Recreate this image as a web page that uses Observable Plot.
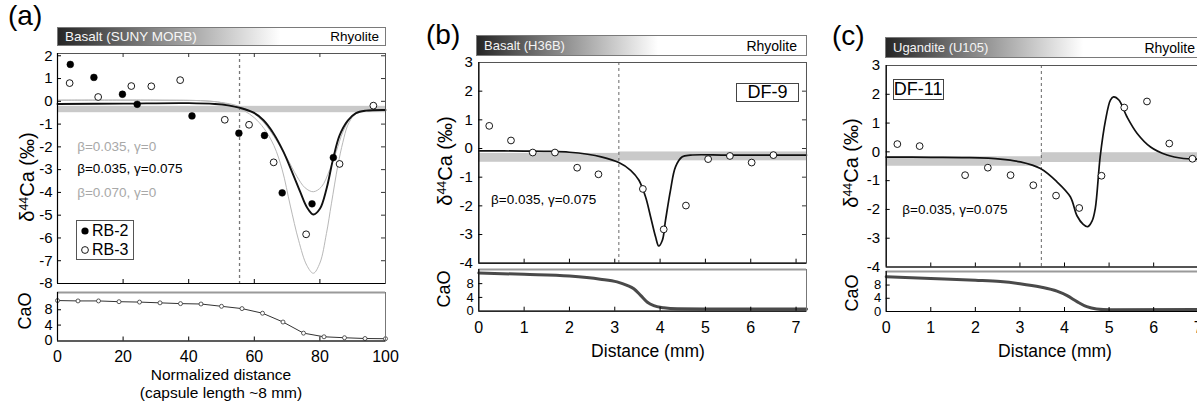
<!DOCTYPE html>
<html><head><meta charset="utf-8">
<script src="https://cdn.jsdelivr.net/npm/d3@7"></script>
<script src="https://cdn.jsdelivr.net/npm/@observablehq/plot@0.6"></script>
<style>
html,body{margin:0;padding:0;background:#fff;}
#root{position:relative;width:1197px;height:401px;overflow:hidden;font-family:"Liberation Sans",Arial,Helvetica,sans-serif;color:#000;}
#root svg{overflow:visible;}
.bar{position:absolute;box-sizing:border-box;border:1px solid #7a7a7a;display:flex;justify-content:space-between;align-items:center;white-space:nowrap;}
.ylab{position:absolute;transform:translate(-50%,-50%) rotate(-90deg);white-space:nowrap;line-height:1;}
.sup{font-size:0.62em;position:relative;top:-0.5em;}
</style></head><body><div id="root"></div>
<script>
// ================= DATA =================
// ---- Panel (a): SUNY MORB basalt / rhyolite, normalized distance ----
const aRB2x = [3.9, 11.1, 19.8, 24.3, 41, 55.3, 63.1, 68.5, 77.6, 84.1];
const aRB2y = [1.62, 1.05, 0.31, -0.13, -0.64, -1.4, -1.5, -4.02, -4.5, -2.47];
const aRB3x = [3.7, 12.4, 22.5, 28.6, 37.4, 51, 58.4, 65.9, 75.8, 86, 96.3];
const aRB3y = [0.8, 0.19, 0.67, 0.66, 0.93, -0.81, -1.03, -2.68, -5.84, -2.75, -0.19];
// model: beta=0.035, gamma=0.075 (black)
const aFitX = [0, 20, 40, 48, 52, 55.7, 59.8, 62.8, 65.9, 68.9, 71.5, 74, 76, 78, 80, 82, 84, 86, 88.5, 91, 94, 100];
const aFitY = [-0.12, -0.1, -0.08, -0.12, -0.18, -0.29, -0.5, -0.83, -1.42, -2.22, -3.1, -3.98, -4.64, -4.97, -4.72, -3.85, -2.55, -1.5, -0.85, -0.52, -0.41, -0.38];
// model: beta=0.035, gamma=0 (grey)
const aG1X = [0, 30, 45, 50, 55, 60, 63, 66, 70, 73, 75.5, 78, 80.5, 83, 85, 87, 89.5, 92, 96, 100];
const aG1Y = [0.05, 0.05, 0.02, -0.05, -0.2, -0.55, -0.95, -1.55, -2.5, -3.3, -3.8, -3.97, -3.75, -3.0, -2.2, -1.35, -0.7, -0.45, -0.38, -0.37];
// model: beta=0.070, gamma=0 (grey)
const aG2X = [0, 30, 45, 50, 54, 57, 60, 63, 66, 68.5, 71, 73.5, 76, 78, 80, 82, 83.5, 85.5, 87, 88.5, 90.5, 93, 100];
const aG2Y = [0.05, 0.05, 0.02, -0.06, -0.22, -0.42, -0.72, -1.2, -1.95, -3.0, -4.6, -6.1, -7.2, -7.55, -7.1, -5.8, -4.5, -2.8, -1.8, -1.05, -0.6, -0.43, -0.38];
const aBandX1 = [0], aBandX2 = [100], aBandY1 = [-0.22], aBandY2 = [-0.5];
const aSplit = [55.5];
const aCaOx = [0, 6.25, 12.5, 18.75, 25, 31.25, 37.5, 43.75, 50, 56.25, 62.5, 68.75, 75, 81.25, 87.5, 93.75, 100];
const aCaOy = [10.4, 10.3, 10.3, 10.1, 10.0, 9.8, 9.6, 9.5, 8.9, 8.3, 7.1, 4.8, 1.9, 0.95, 0.7, 0.5, 0.45];
const aYLabels = [-8, -7, -6, -5, -4, -3, -2, -1, 0, 1, 2];
const aXLabels = [0, 20, 40, 60, 80, 100];
const aNotes = ["β=0.035, γ=0", "β=0.035, γ=0.075", "β=0.070, γ=0"];
const aNoteY = [-2.0, -2.95, -4.0];

// ---- Panel (b): H36B basalt / rhyolite, DF-9 ----
const bX = [0.23, 0.71, 1.19, 1.68, 2.17, 2.64, 3.62, 4.08, 4.57, 5.06, 5.54, 6.02, 6.5];
const bY = [0.79, 0.28, -0.14, -0.14, -0.67, -0.9, -1.41, -2.82, -1.99, -0.37, -0.26, -0.49, -0.23];
const bFitX = [0, 1, 1.5, 2, 2.4, 2.7, 3.09, 3.35, 3.53, 3.68, 3.79, 3.9, 3.97, 4.05, 4.12, 4.23, 4.34, 4.49, 4.67, 5.5, 7.23];
const bFitY = [-0.08, -0.09, -0.1, -0.13, -0.2, -0.29, -0.49, -0.76, -1.1, -1.69, -2.38, -3.08, -3.4, -3.2, -2.5, -1.45, -0.64, -0.29, -0.23, -0.23, -0.23];
const bBandX1 = [0, 3.09], bBandX2 = [3.09, 7.23], bBandY1 = [-0.17, -0.12], bBandY2 = [-0.48, -0.43];
const bSplit = [3.09];
const bCaOx = [0, 1, 2, 2.68, 3.05, 3.27, 3.42, 3.57, 3.72, 3.86, 4.08, 4.38, 5, 7.23];
const bCaOy = [11.1, 10.7, 10.2, 9.3, 8.5, 7.5, 6.5, 4.6, 2.6, 1.6, 1.0, 0.7, 0.65, 0.65];

// ---- Panel (c): U105 ugandite / rhyolite, DF-11 ----
const cX = [0.25, 0.75, 1.77, 2.28, 2.79, 3.3, 3.81, 4.33, 4.83, 5.34, 5.85, 6.35, 6.87];
const cY = [0.27, 0.2, -0.81, -0.55, -0.81, -1.16, -1.52, -1.95, -0.83, 1.54, 1.75, 0.29, -0.24];
const cFitX = [0, 1, 1.8, 2.56, 3.01, 3.46, 3.83, 4.13, 4.28, 4.42, 4.52, 4.62, 4.69, 4.8, 4.92, 5.03, 5.1, 5.22, 5.4, 5.63, 5.93, 6.3, 6.67, 6.97, 7.23];
const cFitY = [-0.18, -0.19, -0.2, -0.25, -0.35, -0.58, -1.04, -1.56, -2.22, -2.52, -2.6, -2.4, -1.97, -0.17, 1.1, 1.8, 1.91, 1.8, 1.22, 0.64, 0.17, -0.11, -0.23, -0.25, -0.27];
const cBandX1 = [0, 3.48], cBandX2 = [3.48, 7.23], cBandY1 = [-0.17, -0.03], cBandY2 = [-0.5, -0.37];
const cSplit = [3.48];
const cCaOx = [0, 1, 2, 2.56, 3.0, 3.46, 3.83, 4.06, 4.28, 4.5, 4.72, 5.02, 7.23];
const cCaOy = [10.5, 10.0, 9.45, 9.05, 8.4, 7.4, 6.15, 4.8, 3.0, 1.45, 0.75, 0.5, 0.6];

const bcYLabels = [-4, -3, -2, -1, 0, 1, 2, 3];
const bcXLabels = [0, 1, 2, 3, 4, 5, 6, 7];
const caoLabels = [0, 4, 8];
const fitNote = "β=0.035, γ=0.075";

// ================= HELPERS =================
const root = document.getElementById("root");
const FONT = "'Liberation Sans', Arial, Helvetica, sans-serif";
const fmt = d => String(d);
const zip = (xs, ys) => xs.map((x, i) => ({x, y: ys[i]}));
const bands = (x1, x2, y1, y2) => x1.map((v, i) => ({x1: v, x2: x2[i], y1: y1[i], y2: y2[i]}));

function place(svg, left, top) {
  svg.style.position = "absolute";
  svg.style.left = left + "px";
  svg.style.top = top + "px";
  svg.style.maxWidth = "none";
  root.appendChild(svg);
}
function html(css, inner, cls) {
  const e = document.createElement("div");
  if (cls) e.className = cls;
  e.style.cssText = "position:absolute;" + css;
  e.innerHTML = inner;
  root.appendChild(e);
  return e;
}
function makePlot(o) {
  return Plot.plot({
    width: o.width, height: o.height,
    marginLeft: o.mL, marginRight: o.mR, marginTop: o.mT, marginBottom: o.mB,
    x: o.noX ? {domain: o.xDomain, axis: null} : {domain: o.xDomain},
    y: {domain: o.yDomain},
    style: {fontFamily: FONT, fontSize: "15px", background: "transparent", overflow: "visible", color: "#000"},
    marks: o.marks
  });
}
function inward(xT, yT, fw, fh, sides, len = 4) {
  const m = [];
  if (sides.includes("l")) m.push(Plot.tickY(yT, {y: d => d, insetRight: fw - len, stroke: "#000"}));
  if (sides.includes("r")) m.push(Plot.tickY(yT, {y: d => d, insetLeft: fw - len, stroke: "#333"}));
  if (sides.includes("b")) m.push(Plot.tickX(xT, {x: d => d, insetTop: fh - len, stroke: "#000"}));
  if (sides.includes("t")) m.push(Plot.tickX(xT, {x: d => d, insetBottom: fh - len, stroke: "#333"}));
  return m;
}
function frameMarks(xDom, yDom) {
  return [
    Plot.frame({stroke: "#555", strokeWidth: 1}),
    Plot.ruleX([xDom[0]], {stroke: "#000", strokeWidth: 1.2}),
    Plot.ruleY([yDom[0]], {stroke: "#000", strokeWidth: 1.2})
  ];
}
function bottomFrame(xDom, yDom) {
  return [
    Plot.frame({stroke: "#777", strokeWidth: 1}),
    Plot.ruleY([yDom[1]], {stroke: "#9a9a9a", strokeWidth: 2}),
    Plot.ruleX([xDom[0]], {stroke: "#000", strokeWidth: 1.2}),
    Plot.ruleY([yDom[0]], {stroke: "#000", strokeWidth: 1.2})
  ];
}

// ================= PANEL (a) =================
{
  const xDom = [0, 100], yDom = [-8, 2.1];
  const fw = 328, fh = 230;
  const svg = makePlot({
    width: 390, height: 245, mL: 57, mR: 5, mT: 10, mB: 5, xDomain: xDom, yDomain: yDom, noX: true,
    marks: [
      Plot.rect(bands(aBandX1, aBandX2, aBandY1, aBandY2), {x1: "x1", x2: "x2", y1: "y1", y2: "y2", fill: "#c9c9c9"}),
      Plot.ruleX(aSplit, {stroke: "#777", strokeWidth: 1.3, strokeDasharray: "3,3"}),
      Plot.line(zip(aG2X, aG2Y), {x: "x", y: "y", stroke: "#b8b8b8", strokeWidth: 1, curve: "catmull-rom"}),
      Plot.line(zip(aG1X, aG1Y), {x: "x", y: "y", stroke: "#b8b8b8", strokeWidth: 1, curve: "catmull-rom"}),
      Plot.line(zip(aFitX, aFitY), {x: "x", y: "y", stroke: "#111", strokeWidth: 1.9, curve: "catmull-rom"}),
      Plot.dot(zip(aRB3x, aRB3y), {x: "x", y: "y", r: 3.4, fill: "#fff", stroke: "#000", strokeWidth: 0.9}),
      Plot.dot(zip(aRB2x, aRB2y), {x: "x", y: "y", r: 3.4, fill: "#000", stroke: "#000", strokeWidth: 0.5}),
      Plot.text([aNotes[0], aNotes[2]], {x: () => 6, y: (d, i) => [aNoteY[0], aNoteY[2]][i], text: d => d, textAnchor: "start", fill: "#a8a8a8", fontSize: 13.5}),
      Plot.text([aNotes[1]], {x: () => 6, y: () => aNoteY[1], text: d => d, textAnchor: "start", fill: "#000", fontSize: 13.5}),
      ...frameMarks(xDom, yDom),
      ...inward([20, 40, 60, 80], [-7, -6, -5, -4, -3, -2, -1, 0, 1, 2], fw, fh, "lrbt"),
      Plot.axisY({ticks: aYLabels, tickFormat: fmt, anchor: "left", tickSize: 0, tickPadding: 5, fontSize: 15, label: null})
    ]
  });
  place(svg, 0, 43);

  const yb = [-0.15, 12.5];
  const fhb = 48.5;
  const svgB = makePlot({
    width: 390, height: 90, mL: 57, mR: 5, mT: 10, mB: 31.5, xDomain: xDom, yDomain: yb,
    marks: [
      Plot.line(zip(aCaOx, aCaOy), {x: "x", y: "y", stroke: "#333", strokeWidth: 1}),
      Plot.dot(zip(aCaOx, aCaOy), {x: "x", y: "y", r: 2, fill: "#fff", stroke: "#333", strokeWidth: 0.8}),
      ...bottomFrame(xDom, yb),
      ...inward([20, 40, 60, 80], [4, 8], fw, fhb, "lb"),
      Plot.axisY({ticks: caoLabels, tickFormat: fmt, anchor: "left", tickSize: 0, tickPadding: 5, fontSize: 14.5, label: null}),
      Plot.axisX({ticks: aXLabels, tickFormat: fmt, anchor: "bottom", tickSize: 0, tickPadding: 10, fontSize: 16, label: null})
    ]
  });
  place(svgB, 0, 282);

  html("left:8px;top:2px;font-size:28px;line-height:28px;", "(a)");
  html(`left:57px;top:26.5px;width:329px;height:19px;padding:0 6px 0 7px;font-size:13.5px;background:linear-gradient(to right,#262626 0%,#ffffff 68%);`,
       `<span style="color:#f6f6f6">Basalt (SUNY MORB)</span><span>Rhyolite</span>`, "bar");
  html("left:27px;top:177px;font-size:20px;", `δ<span class="sup">44</span>Ca (‰)`, "ylab");
  html("left:25px;top:311px;font-size:18px;", "CaO", "ylab");
  html("left:121px;top:366px;width:200px;text-align:center;font-size:15.5px;line-height:17.5px;white-space:nowrap;", "Normalized distance<br>(capsule length ~8 mm)");
  html("left:76px;top:220px;width:58px;height:40px;box-sizing:border-box;border:1px solid #555;background:#fff;font-size:16px;line-height:19px;",
       `<div style="display:flex;align-items:center;height:19px;padding-left:3px;"><svg width="10" height="10" style="overflow:visible"><circle cx="5" cy="5" r="3.6" fill="#000"/></svg><span style="margin-left:2px">RB-2</span></div>` +
       `<div style="display:flex;align-items:center;height:19px;padding-left:3px;"><svg width="10" height="10" style="overflow:visible"><circle cx="5" cy="5" r="3.4" fill="#fff" stroke="#000" stroke-width="0.9"/></svg><span style="margin-left:2px">RB-3</span></div>`);
}

// ================= PANELS (b) and (c) =================
function bcPanel(p) {
  const xDom = [0, 7.23], yDom = [-4, 3];
  const fw = p.frameW, fh = p.frameH;
  const svg = makePlot({
    width: p.width, height: p.topH, mL: p.mL, mR: p.mR, mT: 10, mB: 5, xDomain: xDom, yDomain: yDom, noX: true,
    marks: [
      Plot.rect(bands(p.bx1, p.bx2, p.by1, p.by2), {x1: "x1", x2: "x2", y1: "y1", y2: "y2", fill: "#c9c9c9"}),
      Plot.ruleX(p.split, {stroke: "#666", strokeWidth: 1, strokeDasharray: "3,3"}),
      Plot.line(zip(p.fitX, p.fitY), {x: "x", y: "y", stroke: "#111", strokeWidth: 1.7, curve: "catmull-rom"}),
      Plot.dot(zip(p.px, p.py), {x: "x", y: "y", r: 3.4, fill: "#fff", stroke: "#000", strokeWidth: 0.9}),
      Plot.text([fitNote], {x: () => p.noteX, y: () => p.noteY, text: d => d, textAnchor: "start", fill: "#000", fontSize: 13.5}),
      ...frameMarks(xDom, yDom),
      ...inward([1, 2, 3, 4, 5, 6, 7], [-3, -2, -1, 0, 1, 2], fw, fh, "lrb"),
      Plot.axisY({ticks: bcYLabels, tickFormat: fmt, anchor: "left", tickSize: 0, tickPadding: 6, fontSize: 15, label: null})
    ]
  });
  place(svg, p.left, p.top);

  const yb = [0, 12.1];
  const svgB = makePlot({
    width: p.width, height: 90, mL: p.mL, mR: p.mR, mT: 10, mB: 90 - 10 - p.botH, xDomain: xDom, yDomain: yb,
    marks: [
      Plot.line(zip(p.caoX, p.caoY), {x: "x", y: "y", stroke: "#4a4a4a", strokeWidth: 3, curve: "monotone-x"}),
      ...bottomFrame(xDom, yb),
      ...inward([1, 2, 3, 4, 5, 6, 7], [4, 8], fw, p.botH, "lb"),
      Plot.axisY({ticks: caoLabels, tickFormat: fmt, anchor: "left", tickSize: 0, tickPadding: 5, fontSize: 13, label: null}),
      Plot.axisX({ticks: bcXLabels, tickFormat: fmt, anchor: "bottom", tickSize: 0, tickPadding: 10, fontSize: 16, label: null})
    ]
  });
  place(svgB, p.left, p.botTop);
}

bcPanel({left: 420, top: 52.3, width: 390, mL: 58.3, mR: 4, topH: 215.7, frameW: 327.7, frameH: 200.7,
  botTop: 259.3, botH: 41.7,
  px: bX, py: bY, fitX: bFitX, fitY: bFitY, bx1: bBandX1, bx2: bBandX2, by1: bBandY1, by2: bBandY2,
  split: bSplit, caoX: bCaOx, caoY: bCaOy, noteX: 0.27, noteY: -1.8});
bcPanel({left: 827, top: 55, width: 385, mL: 58.7, mR: 4, topH: 216.5, frameW: 322.3, frameH: 201.5,
  botTop: 260.7, botH: 40,
  px: cX, py: cY, fitX: cFitX, fitY: cFitY, bx1: cBandX1, bx2: cBandX2, by1: cBandY1, by2: cBandY2,
  split: cSplit, caoX: cCaOx, caoY: cCaOy, noteX: 0.36, noteY: -2.0});

html("left:426px;top:20.5px;font-size:28px;line-height:28px;", "(b)");
html("left:832px;top:21.5px;font-size:28px;line-height:28px;", "(c)");
html(`left:476px;top:35px;width:331px;height:21px;padding:0 9px 0 7px;font-size:13px;background:linear-gradient(to right,#262626 0%,#ffffff 55%);`,
     `<span style="color:#f4f4f4">Basalt (H36B)</span><span style="font-size:14px">Rhyolite</span>`, "bar");
html(`left:885px;top:37px;width:320px;height:21px;padding:0 9px 0 7px;font-size:13px;background:linear-gradient(to right,#262626 0%,#ffffff 62%);`,
     `<span style="color:#f4f4f4">Ugandite (U105)</span><span style="font-size:14px">Rhyolite</span>`, "bar");
html("left:445px;top:161px;font-size:20px;", `δ<span class="sup">44</span>Ca (‰)`, "ylab");
html("left:851px;top:163px;font-size:20px;", `δ<span class="sup">44</span>Ca (‰)`, "ylab");
html("left:444px;top:289px;font-size:18px;", "CaO", "ylab");
html("left:852px;top:293px;font-size:18px;", "CaO", "ylab");
html("left:548px;top:342px;width:200px;text-align:center;font-size:17.5px;line-height:18px;white-space:nowrap;", "Distance (mm)");
html("left:955px;top:342px;width:200px;text-align:center;font-size:17.5px;line-height:18px;white-space:nowrap;", "Distance (mm)");
html("left:736px;top:83px;width:63px;height:19px;box-sizing:border-box;border:1px solid #444;background:#fff;text-align:center;font-size:18px;line-height:17px;", "DF-9");
html("left:892.7px;top:79.3px;width:51px;height:21px;box-sizing:border-box;border:1px solid #444;background:#fff;text-align:center;font-size:18px;line-height:19px;", "DF-11");
</script></body></html>
